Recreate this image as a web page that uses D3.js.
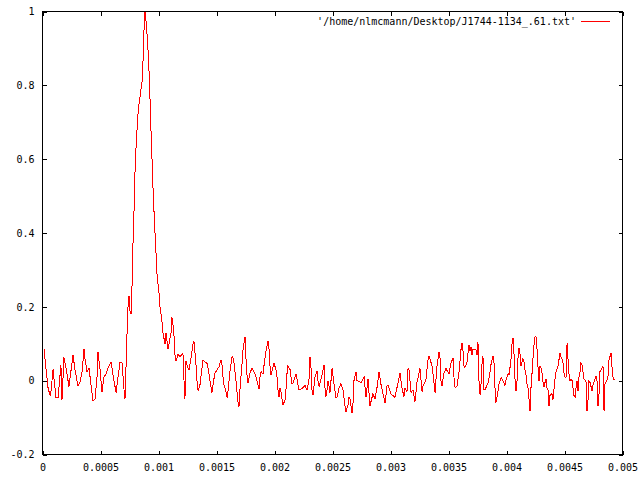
<!DOCTYPE html>
<html>
<head>
<meta charset="utf-8">
<script src="https://cdn.jsdelivr.net/npm/d3@7"></script>
<style>
  html, body { margin: 0; padding: 0; background: #fff; }
  svg { display: block; }
  text { font-family: "DejaVu Sans Mono", "Liberation Mono", monospace; font-size: 10px; fill: #000; }
</style>
</head>
<body>
<svg id="chart" width="640" height="480"></svg>
<script>

// pulse profile: time in microseconds, normalised intensity
var timeUs = [
    13, 47, 65, 73, 91, 116, 134, 159, 168, 185,
    203, 228, 263, 280, 306, 323, 341, 358, 366, 384,
    401, 418, 435, 453, 470, 478, 496, 513, 530, 547,
    565, 591, 608, 634, 651, 668, 685, 703, 711, 720,
    728, 737, 746, 754, 763, 772, 780, 789, 797, 806,
    815, 823, 832, 841, 849, 858, 866, 875, 884, 892,
    901, 909, 918, 927, 935, 944, 953, 961, 970, 978,
    987, 996, 1004, 1013, 1022, 1030, 1039, 1047, 1056, 1065,
    1082, 1108, 1116, 1125, 1134, 1142, 1151, 1168, 1185, 1211,
    1220, 1228, 1237, 1254, 1263, 1272, 1280, 1297, 1306, 1315,
    1323, 1332, 1341, 1358, 1375, 1384, 1401, 1418, 1427, 1444,
    1461, 1478, 1487, 1504, 1522, 1539, 1547, 1556, 1565, 1582,
    1591, 1599, 1616, 1634, 1642, 1651, 1668, 1685, 1694, 1703,
    1720, 1728, 1746, 1754, 1763, 1772, 1789, 1806, 1832, 1849,
    1866, 1875, 1884, 1901, 1909, 1927, 1944, 1953, 1961, 1970,
    1996, 2013, 2022, 2030, 2039, 2047, 2056, 2073, 2091, 2099,
    2108, 2116, 2134, 2151, 2159, 2185, 2194, 2211, 2237, 2263,
    2280, 2297, 2306, 2315, 2323, 2332, 2349, 2366, 2375, 2384,
    2409, 2427, 2435, 2444, 2453, 2461, 2470, 2478, 2496, 2513,
    2530, 2539, 2556, 2573, 2591, 2608, 2616, 2634, 2642, 2651,
    2668, 2677, 2685, 2703, 2711, 2746, 2772, 2789, 2806, 2823,
    2849, 2866, 2884, 2901, 2918, 2953, 2970, 2978, 3004, 3039,
    3065, 3082, 3099, 3116, 3125, 3142, 3151, 3159, 3177, 3194,
    3211, 3228, 3254, 3272, 3280, 3306, 3323, 3332, 3358, 3375,
    3384, 3401, 3418, 3427, 3435, 3444, 3461, 3478, 3504, 3522,
    3539, 3547, 3556, 3573, 3591, 3608, 3616, 3625, 3634, 3642,
    3659, 3677, 3685, 3694, 3703, 3711, 3720, 3737, 3746, 3754,
    3763, 3772, 3780, 3789, 3797, 3806, 3815, 3832, 3841, 3858,
    3866, 3884, 3892, 3901, 3909, 3918, 3935, 3953, 3970, 3987,
    3996, 4013, 4022, 4030, 4039, 4047, 4056, 4065, 4073, 4082,
    4091, 4099, 4108, 4116, 4125, 4134, 4142, 4151, 4159, 4168,
    4177, 4185, 4194, 4203, 4211, 4220, 4228, 4237, 4246, 4254,
    4263, 4272, 4280, 4289, 4297, 4306, 4315, 4323, 4332, 4341,
    4349, 4358, 4366, 4375, 4384, 4392, 4401, 4409, 4418, 4427,
    4435, 4444, 4453, 4461, 4470, 4478, 4487, 4496, 4504, 4513,
    4522, 4530, 4539, 4547, 4556, 4565, 4573, 4582, 4591, 4599,
    4608, 4616, 4625, 4634, 4642, 4651, 4659, 4668, 4677, 4685,
    4694, 4703, 4711, 4720, 4728, 4737, 4746, 4754, 4763, 4772,
    4780, 4789, 4797, 4806, 4815, 4823, 4832, 4841, 4849, 4858,
    4866, 4875, 4884, 4892, 4901, 4909, 4918, 4927, 4935
];

var intensity = [
    0.085, -0.018, -0.04, -0.03, 0.031, -0.046, -0.046, 0.042, -0.052, 0.063,
    0.035, -0.016, 0.069, 0.03, -0.014, -0.005, 0.024, 0.085, 0.06, 0.024,
    0.033, -0.01, -0.054, -0.05, 0.01, 0.078, 0.03, -0.03, 0.01, 0.018,
    0.035, 0.051, 0.015, -0.032, 0.01, 0.05, 0.05, -0.025, -0.05, 0.038,
    0.12, 0.2, 0.23, 0.19, 0.18, 0.26, 0.37, 0.46, 0.56, 0.63,
    0.68, 0.72, 0.75, 0.77, 0.79, 0.81, 0.86, 0.95, 1.0, 0.975,
    0.94, 0.9, 0.84, 0.76, 0.68, 0.6, 0.52, 0.46, 0.4, 0.35,
    0.29, 0.26, 0.24, 0.2, 0.18, 0.16, 0.13, 0.115, 0.1, 0.13,
    0.085, 0.13, 0.171, 0.15, 0.12, 0.07, 0.052, 0.072, 0.065, 0.074,
    0, -0.05, 0.052, 0.035, 0.03, 0.045, 0.06, 0.099, 0.106, 0.075,
    0.045, 0, -0.027, -0.01, 0.035, 0.056, 0.051, 0.047, 0.035, 0,
    -0.032, 0.005, 0.02, 0.029, 0.038, 0.056, 0.045, 0.01, -0.012, -0.03,
    -0.046, -0.03, 0.025, 0.065, 0.062, 0.047, 0, -0.057, -0.07, -0.02,
    0.045, 0.083, 0.119, 0.06, 0.015, -0.007, 0.022, 0.033, 0.018, 0,
    -0.023, 0.01, 0.025, 0.018, 0.04, 0.08, 0.108, 0.085, 0.04, 0.015,
    0.047, 0.03, 0.01, -0.025, -0.045, -0.02, -0.03, -0.066, -0.052, -0.025,
    0.02, 0.04, 0.03, -0.008, -0.008, 0.018, 0.005, -0.025, -0.022, -0.013,
    -0.025, 0, 0.065, 0.033, -0.025, -0.039, 0.01, 0.027, 0, -0.016,
    0.015, 0.042, -0.02, -0.043, -0.025, 0, -0.015, -0.034, 0.033, -0.01,
    -0.045, -0.045, -0.02, -0.008, -0.025, -0.07, -0.085, -0.065, -0.045, -0.05,
    -0.088, -0.06, 0, 0.024, 0, -0.005, 0.01, -0.045, 0.005, -0.068,
    -0.035, -0.05, -0.018, 0.024, -0.01, -0.061, -0.015, -0.012, -0.036, -0.045,
    -0.005, 0.02, -0.02, -0.043, -0.02, -0.03, 0.033, 0.03, -0.032, -0.025,
    -0.057, -0.005, 0.033, -0.03, -0.015, 0.003, 0.056, 0.067, 0.04, -0.005,
    -0.032, 0.04, 0.078, 0.06, 0, -0.014, 0.02, 0.033, 0.018, 0.049,
    0.06, 0.01, -0.018, -0.016, 0.025, 0.085, 0.103, 0.08, 0.04, 0.036,
    0.05, 0.097, 0.08, 0.09, 0.07, 0.085, 0.085, 0.084, 0.07, 0.106,
    0, -0.038, -0.01, 0.045, 0.067, -0.024, -0.025, -0.012, -0.007, 0.025,
    0.043, 0.067, 0.05, -0.02, -0.06, -0.045, -0.01, 0.008, 0, -0.013,
    0.003, 0.019, 0.015, 0.035, 0.06, 0.097, 0.115, 0.07, 0.005, -0.029,
    0, 0.06, 0.088, 0.075, 0.039, 0.05, 0.06, 0.05, 0.03, 0.015,
    -0.01, -0.017, -0.05, -0.083, -0.02, 0.02, 0.06, 0.095, 0.12, 0.12,
    0.085, 0.035, -0.002, 0.04, 0.034, 0.02, -0.005, -0.017, -0.005, 0.004,
    -0.02, -0.025, -0.069, -0.04, -0.035, -0.037, -0.051, -0.025, 0.005, 0.025,
    0.03, 0.04, 0.058, 0.074, 0.065, 0.06, 0.048, 0.02, 0.01, 0.008,
    0.101, 0.06, 0.018, 0, 0.004, 0, -0.02, -0.04, -0.045, -0.02,
    0, -0.029, 0.01, 0.025, 0.049, 0.043, 0.025, 0.005, 0.002, 0,
    -0.083, -0.05, 0, -0.005, -0.015, -0.029, -0.01, -0.005, 0.005, 0.013,
    0, -0.069, -0.04, 0.025, 0.03, 0.035, 0.038, -0.083, -0.01, -0.003,
    0, 0.012, 0.058, 0.065, 0.076, 0.04, 0.01, 0.003, 0.003
];

// tick values as gnuplot prints them
var xTicks = [0, 0.0005, 0.001, 0.0015, 0.002, 0.0025, 0.003, 0.0035, 0.004, 0.0045, 0.005];
var xTickLabels = ["0", "0.0005", "0.001", "0.0015", "0.002", "0.0025", "0.003", "0.0035", "0.004", "0.0045", "0.005"];
var yTicks = [-0.2, 0, 0.2, 0.4, 0.6, 0.8, 1];
var yTickLabels = ["-0.2", "0", "0.2", "0.4", "0.6", "0.8", "1"];

var seriesName = "'/home/nlmcmann/Desktop/J1744-1134_.61.txt'";

if (timeUs.length != intensity.length) {
    console.error("data length mismatch", timeUs.length, intensity.length);
}

drawPlot();

function drawPlot() {

    // plot box, same as gnuplot's default 640x480 png
    var left = 42.5, right = 622.5, top = 11.5, bottom = 454.5,
        tick = 4;

    var svg = d3.select("#chart");

    var x = d3.scaleLinear()
        .domain([0, 0.005])
        .range([left, right]);

    var y = d3.scaleLinear()
        .domain([-0.2, 1])
        .range([bottom, top]);

    // data
    var points = timeUs.map(function(t, i) {
        return {t: t / 1e6, v: intensity[i]};
    });

    var line = d3.line()
        .x(function(d) { return x(d.t); })
        .y(function(d) { return y(d.v); });

    svg.append("path")
        .datum(points)
        .attr("d", line)
        .attr("fill", "none")
        .attr("stroke", "#ff0000")
        .attr("stroke-width", 1)
        .attr("shape-rendering", "crispEdges");

    // axes, ticks pointing inwards on all four sides
    var xBottom = svg.append("g")
        .attr("transform", "translate(0," + bottom + ")")
        .call(d3.axisBottom(x)
            .tickValues(xTicks)
            .tickSize(-tick)
            .tickPadding(9)
            .tickFormat(function(d, i) { return xTickLabels[i]; }));

    var xTop = svg.append("g")
        .attr("transform", "translate(0," + top + ")")
        .call(d3.axisTop(x)
            .tickValues(xTicks)
            .tickSize(-tick)
            .tickFormat(""));

    var yLeft = svg.append("g")
        .attr("transform", "translate(" + left + ",0)")
        .call(d3.axisLeft(y)
            .tickValues(yTicks)
            .tickSize(-tick)
            .tickPadding(8)
            .tickFormat(function(d, i) { return yTickLabels[i]; }));

    var yRight = svg.append("g")
        .attr("transform", "translate(" + right + ",0)")
        .call(d3.axisRight(y)
            .tickValues(yTicks)
            .tickSize(-tick)
            .tickFormat(""));

    [xBottom, xTop, yLeft, yRight].forEach(function(g) {
        g.select(".domain").remove();
        g.attr("font-family", null).attr("font-size", null);
        g.selectAll(".tick line")
            .attr("stroke", "#000")
            .attr("shape-rendering", "crispEdges");
    });

    // frame
    svg.append("rect")
        .attr("x", left)
        .attr("y", top)
        .attr("width", right - left)
        .attr("height", bottom - top)
        .attr("fill", "none")
        .attr("stroke", "#000")
        .attr("shape-rendering", "crispEdges");

    // key in the top right corner
    svg.append("text")
        .attr("x", 576)
        .attr("y", 25)
        .attr("text-anchor", "end")
        .text(seriesName);

    svg.append("line")
        .attr("x1", 581)
        .attr("x2", 610)
        .attr("y1", 21.5)
        .attr("y2", 21.5)
        .attr("stroke", "#ff0000")
        .attr("shape-rendering", "crispEdges");
}
</script>
</body>
</html>
